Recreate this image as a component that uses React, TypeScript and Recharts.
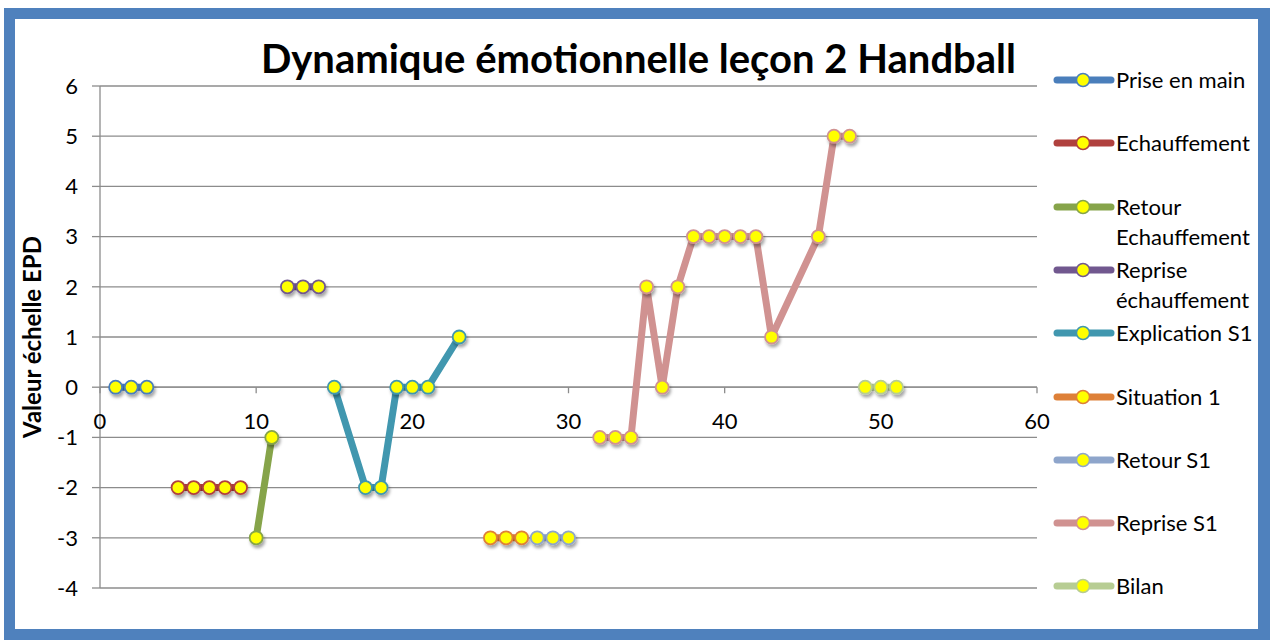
import React from "react";
import {
  ScatterChart,
  Scatter,
  XAxis,
  YAxis,
  CartesianGrid,
  ReferenceLine,
  ReferenceDot,
} from "recharts";

// Séquences de la leçon (x = rang de la mesure, y = valeur échelle EPD)
const priseX = [1, 2, 3];
const priseY = [0, 0, 0];
const echauffX = [5, 6, 7, 8, 9];
const echauffY = [-2, -2, -2, -2, -2];
const retourEchX = [10, 11];
const retourEchY = [-3, -1];
const repriseEchX = [12, 13, 14];
const repriseEchY = [2, 2, 2];
const explicationX = [15, 17, 18, 19, 20, 21, 23];
const explicationY = [0, -2, -2, 0, 0, 0, 1];
const situationX = [25, 26, 27];
const situationY = [-3, -3, -3];
const retourS1X = [28, 29, 30];
const retourS1Y = [-3, -3, -3];
const repriseS1X = [32, 33, 34, 35, 36, 37, 38, 39, 40, 41, 42, 43, 46, 47, 48];
const repriseS1Y = [-1, -1, -1, 2, 0, 2, 3, 3, 3, 3, 3, 1, 3, 5, 5];
const bilanX = [49, 50, 51];
const bilanY = [0, 0, 0];

const xTicks = [0, 10, 20, 30, 40, 50, 60];
const yTicks = [-4, -3, -2, -1, 0, 1, 2, 3, 4, 5, 6];

const zip = (xs: number[], ys: number[]) => xs.map((x, i) => ({ x, y: ys[i] }));

const series = [
  { name: "Prise en main", color: "#4A7EBB", data: zip(priseX, priseY) },
  { name: "Echauffement", color: "#B0413E", data: zip(echauffX, echauffY) },
  { name: "Retour Echauffement", color: "#86A44A", data: zip(retourEchX, retourEchY) },
  { name: "Reprise échauffement", color: "#71588F", data: zip(repriseEchX, repriseEchY) },
  { name: "Explication S1", color: "#4197AF", data: zip(explicationX, explicationY) },
  { name: "Situation 1", color: "#DE8038", data: zip(situationX, situationY) },
  { name: "Retour S1", color: "#8EA5CB", data: zip(retourS1X, retourS1Y) },
  { name: "Reprise S1", color: "#D09291", data: zip(repriseS1X, repriseS1Y) },
  { name: "Bilan", color: "#B7CD93", data: zip(bilanX, bilanY) },
];

const FONT = "Lato, 'Open Sans', sans-serif";
const GRID = "#8C8C8C";
const TICK_FS = 22;

const marker = (color: string) => (props: any) => (
  <circle
    cx={props.cx}
    cy={props.cy}
    r={6.5}
    fill="#FFFF00"
    stroke={color}
    strokeWidth={1.8}
    filter="url(#markerShadow)"
  />
);

function LegendBox() {
  return (
    <div style={{ position: "absolute", left: 1052, top: 0, width: 210, fontFamily: FONT }}>
      {series.map((s, i) => (
        <div
          key={s.name}
          style={{ position: "absolute", left: 0, top: 80 + i * 63.3 - 15, display: "flex", alignItems: "flex-start" }}
        >
          <svg width={64} height={30} style={{ flex: "none" }}>
            <line x1={5} y1={15} x2={59} y2={15} stroke={s.color} strokeWidth={7} strokeLinecap="round" />
            <circle cx={31} cy={15} r={6.5} fill="#FFFF00" stroke={s.color} strokeWidth={1.5} />
          </svg>
          <div style={{ fontSize: 22, lineHeight: "30px", width: 142, color: "#000" }}>{s.name}</div>
        </div>
      ))}
    </div>
  );
}

export default function App() {
  return (
    <div style={{ position: "absolute", left: 0, top: 0, width: 1270, height: 640, background: "#fff" }}>
      <div
        style={{
          position: "absolute",
          left: 4,
          top: 8,
          width: 1266,
          height: 632,
          boxSizing: "border-box",
          border: "11px solid #4F81BD",
          borderRight: "12px solid #4F81BD",
        }}
      />
      <div
        style={{
          position: "absolute",
          left: 0,
          width: 1277,
          top: 38,
          textAlign: "center",
          fontFamily: FONT,
          fontWeight: 700,
          fontSize: 40,
          lineHeight: "40px",
          color: "#000",
          whiteSpace: "nowrap",
        }}
      >
        Dynamique émotionnelle leçon 2 Handball
      </div>
      <div style={{ position: "absolute", left: 0, top: 0 }}>
        <ScatterChart width={1270} height={640} margin={{ top: 86, right: 233, bottom: 52, left: 20 }}>
          <defs>
            <filter id="markerShadow" x="-50%" y="-50%" width="200%" height="200%">
              <feDropShadow dx={1.5} dy={3} stdDeviation={1.8} floodColor="#000" floodOpacity={0.35} />
            </filter>
          </defs>
          <CartesianGrid vertical={false} stroke={GRID} strokeWidth={1.3} />
          <XAxis type="number" dataKey="x" domain={[0, 60]} ticks={xTicks} hide />
          <YAxis
            type="number"
            dataKey="y"
            domain={[-4, 6]}
            ticks={yTicks}
            width={80}
            tickSize={8}
            tickMargin={14}
            axisLine={{ stroke: GRID, strokeWidth: 1.3 }}
            tickLine={{ stroke: GRID, strokeWidth: 1.3 }}
            tick={{ fill: "#000", fontSize: TICK_FS, fontFamily: FONT }}
            interval={0}
            label={{
              value: "Valeur échelle EPD",
              angle: -90,
              position: "insideLeft",
              offset: 12,
              style: { textAnchor: "middle", fontWeight: 700, fontSize: 24, fontFamily: FONT, fill: "#000" },
            }}
          />
          <ReferenceLine y={0} stroke={GRID} strokeWidth={1.3} />
          {xTicks.map((t) => (
            <ReferenceLine
              key={"tk" + t}
              segment={[
                { x: t, y: 0 },
                { x: t, y: -0.12 },
              ]}
              stroke={GRID}
              strokeWidth={1.3}
            />
          ))}
          {xTicks.map((t) => (
            <ReferenceDot
              key={"lb" + t}
              x={t}
              y={0}
              r={0}
              fill="none"
              stroke="none"
              label={{ value: String(t), position: "bottom", offset: 26, fill: "#000", fontSize: TICK_FS, fontFamily: FONT }}
            />
          ))}
          {series.map((s) => (
            <Scatter
              key={s.name}
              name={s.name}
              data={s.data}
              fill={s.color}
              line={{ stroke: s.color, strokeWidth: 7, strokeLinejoin: "round", strokeLinecap: "round" }}
              lineJointType="linear"
              shape={marker(s.color)}
              isAnimationActive={false}
            />
          ))}
        </ScatterChart>
      </div>
      <LegendBox />
    </div>
  );
}
